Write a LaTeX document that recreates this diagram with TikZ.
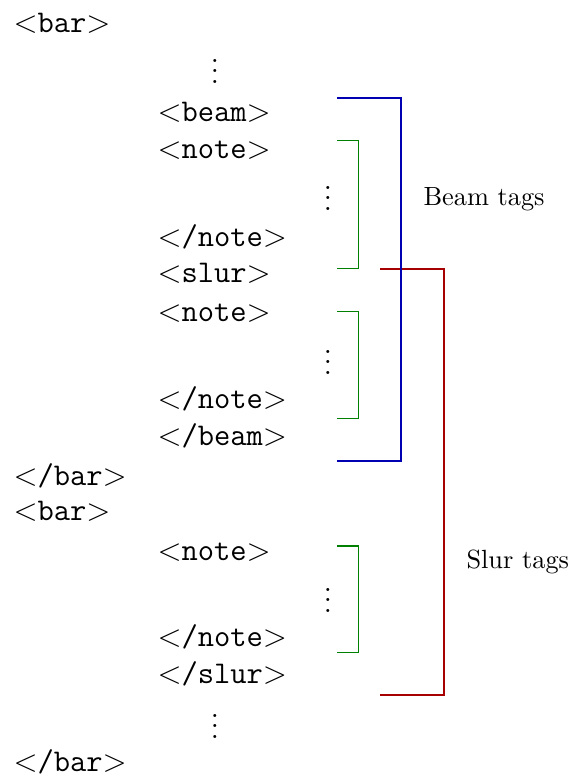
\documentclass[tikz,border=0pt]{standalone}
\begin{document}
\begin{tikzpicture}[x=0.38pt,y=-0.38pt,
  tag/.style={anchor=base west,inner sep=0pt,font=\large\ttfamily},
  dots/.style={anchor=base,inner sep=0pt,font=\large,text height=9pt,text depth=0pt},
  label/.style={anchor=base west,inner sep=0pt},
  beamline/.style={draw=blue!70!black},
  slurline/.style={draw=red!65!black},
  noteline/.style={draw=green!50!black}]
\useasboundingbox (0,0) rectangle (570,778);

% XML-like tag listing
\node[tag] (bar1)   at (13,32)    {$<$bar$>$};
\node[dots] (d1)    at (215,83.5) {$\vdots$};
\node[tag] (beam1)  at (157,121.7){$<$beam$>$};
\node[tag] (note1)  at (157,158)  {$<$note$>$};
\node[dots] (d2)    at (328,210.5){$\vdots$};
\node[tag] (enote1) at (157,246.7){$<$/note$>$};
\node[tag] (slur1)  at (157,282)  {$<$slur$>$};
\node[tag] (note2)  at (157,321.7){$<$note$>$};
\node[dots] (d3)    at (328,374.5){$\vdots$};
\node[tag] (enote2) at (157,408.3){$<$/note$>$};
\node[tag] (ebeam1) at (157,445)  {$<$/beam$>$};
\node[tag] (ebar1)  at (13,485)   {$<$/bar$>$};
\node[tag] (bar2)   at (13,520)   {$<$bar$>$};
\node[tag] (note3)  at (157,560)  {$<$note$>$};
\node[dots] (d4)    at (328,612.5){$\vdots$};
\node[tag] (enote3) at (157,646.7){$<$/note$>$};
\node[tag] (eslur1) at (157,683)  {$<$/slur$>$};
\node[dots] (d5)    at (215,738.5){$\vdots$};
\node[tag] (ebar2)  at (13,771)   {$<$/bar$>$};

% bracket labels
\node[label] (lbeam) at (423,205) {Beam tags};
\node[label] (lslur) at (466,568) {Slur tags};

% bracket end points
\coordinate (st) at (380,269);
\coordinate (sb) at (380,695);
\coordinate (bt) at (337,98);
\coordinate (bb) at (337,461);
\coordinate (n1t) at (337,140.7);
\coordinate (n1b) at (337,268.7);
\coordinate (n2t) at (337,311.7);
\coordinate (n2b) at (337,418.3);
\coordinate (n3t) at (337,546);
\coordinate (n3b) at (337,652.7);

% slur bracket
\draw[slurline] (st) -- ++(64,0) |- (sb);
% beam bracket
\draw[beamline] (bt) -- ++(64,0) |- (bb);
% note brackets
\draw[noteline] (n1t) -- ++(21.7,0) |- (n1b);
\draw[noteline] (n2t) -- ++(21.7,0) |- (n2b);
\draw[noteline] (n3t) -- ++(21.7,0) |- (n3b);
\end{tikzpicture}
\end{document}
